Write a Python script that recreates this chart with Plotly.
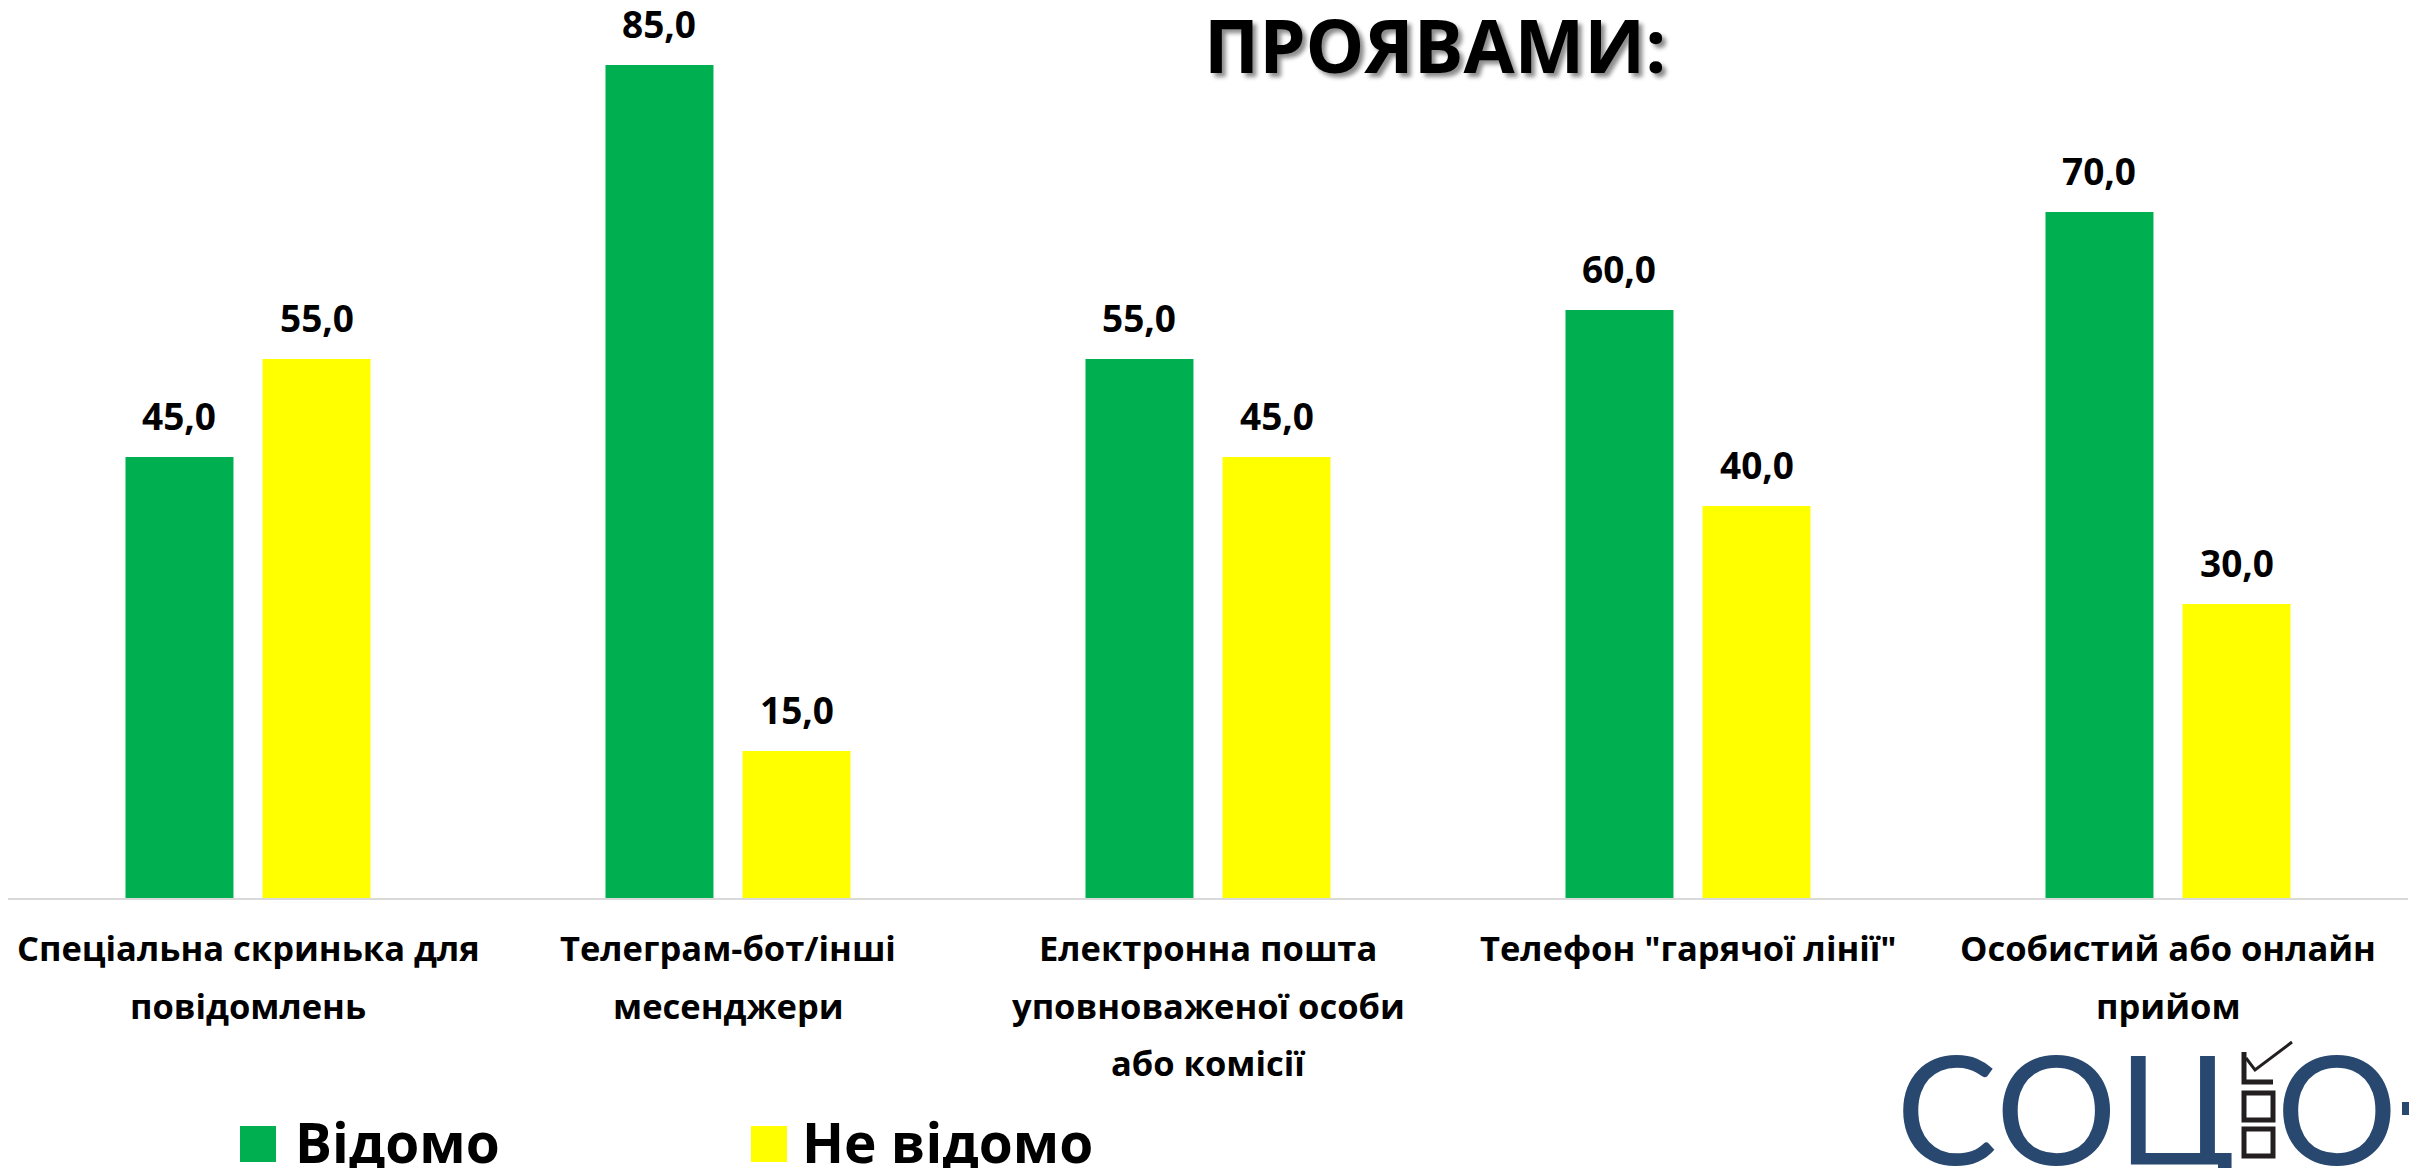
import plotly.graph_objects as go

# data
categories = ["Спеціальна скринька для<br>повідомлень",
              "Телеграм-бот/інші<br>месенджери",
              "Електронна пошта<br>уповноваженої особи<br>або комісії",
              "Телефон \"гарячої лінії\"",
              "Особистий або онлайн<br>прийом"]
known = [45.0, 85.0, 55.0, 60.0, 70.0]
unknown = [55.0, 15.0, 45.0, 40.0, 30.0]
series_names = ["Відомо", "Не відомо"]
title_text = "ПРОЯВАМИ:"

GREEN = "#00B050"
YELLOW = "#FFFF00"
LOGO = "#284870"
FONT = "Open Sans, Noto Sans, sans-serif"

# page has an 8px body margin, so the figure is drawn 8px smaller and shifted
OFF = 8
W, H = 2417 - OFF, 1168 - OFF
L, R, T, B = 0, 9, 0, 270
PW, PH = W - L - R, H - T - B
BARGAP, GROUPGAP = 0.429, 0.212


def px(x):
    return (x - OFF - L) / PW


def py(y):
    return (H - B - (y - OFF)) / PH


fig = go.Figure()
for name, vals, col in [(series_names[0], known, GREEN), (series_names[1], unknown, YELLOW)]:
    fig.add_trace(go.Bar(x=categories, y=vals, name=name, marker_color=col,
                         marker_line_width=0, showlegend=False))

annotations = []
# value labels above the bars
slot = PW / len(categories) * (1 - BARGAP) / 2
for j, vals in enumerate([known, unknown]):
    for cat, v in zip(categories, vals):
        annotations.append(dict(x=cat, y=v, xref="x", yref="y", text=f"{v:.1f}".replace(".", ","),
                                showarrow=False, xanchor="center", yanchor="bottom",
                                xshift=(j - 0.5) * slot, yshift=14,
                                font=dict(family=FONT, size=37, color="black", weight="bold")))

# category labels, one line per annotation so the line spacing can follow the picture
for cat in categories:
    for i, line in enumerate(cat.split("<br>")):
        annotations.append(dict(x=cat, xref="x", y=py(948 + 57 * i), yref="paper",
                                text=line, showarrow=False, xanchor="center", yanchor="middle",
                                font=dict(family=FONT, size=34.5, color="black", weight="bold")))

# title with soft shadow
annotations.append(dict(x=px(1435), y=py(44), xref="paper", yref="paper", text=title_text,
                        showarrow=False, xanchor="center", yanchor="middle",
                        font=dict(family=FONT, size=74, color="black", weight="bold",
                                  shadow="4px 4px 4px rgba(0,0,0,0.45)")))

# hand drawn legend with large swatches
shapes = []
for name, col, sx, tx in [(series_names[0], GREEN, 240, 293), (series_names[1], YELLOW, 751, 800)]:
    shapes.append(dict(type="rect", xref="paper", yref="paper", x0=px(sx), x1=px(sx + 36),
                       y0=py(1162), y1=py(1126), fillcolor=col, line_width=0))
    annotations.append(dict(x=px(tx), y=py(1141), xref="paper", yref="paper", text=name,
                            showarrow=False, xanchor="left", yanchor="middle",
                            font=dict(family=FONT, size=55, color="black", weight="bold")))

# logo "СОЦІО-" (cut off at the page edge)
logo_font = dict(family="Lato, DejaVu Sans, sans-serif", size=152, color=LOGO)
annotations.append(dict(x=px(2238), y=py(1106), xref="paper", yref="paper", text="СОЦ",
                        showarrow=False, xanchor="right", yanchor="middle", font=logo_font))
annotations.append(dict(x=px(2274), y=py(1106), xref="paper", yref="paper", text="О",
                        showarrow=False, xanchor="left", yanchor="middle", font=logo_font))
shapes.append(dict(type="rect", xref="paper", yref="paper", x0=px(2402), x1=px(2430),
                   y0=py(1115), y1=py(1102), fillcolor=LOGO, line_width=0))
for y0, y1 in [(1093, 1120), (1129, 1156)]:
    shapes.append(dict(type="rect", xref="paper", yref="paper", x0=px(2244), x1=px(2273),
                       y0=py(y1), y1=py(y0), line=dict(color="#231F20", width=5),
                       fillcolor="white"))
shapes.append(dict(type="path", xref="paper", yref="paper",
                   path=f"M {px(2244)},{py(1052)} L {px(2244)},{py(1082)} L {px(2273)},{py(1082)}",
                   line=dict(color="#231F20", width=5)))
shapes.append(dict(type="path", xref="paper", yref="paper",
                   path=f"M {px(2246)},{py(1058)} L {px(2255)},{py(1070)} L {px(2292)},{py(1042)}",
                   line=dict(color="#231F20", width=3)))

fig.update_layout(
    width=W, height=H, margin=dict(l=L, r=R, t=T, b=B, pad=0),
    paper_bgcolor="white", plot_bgcolor="white",
    barmode="group", bargap=BARGAP, bargroupgap=GROUPGAP,
    xaxis=dict(showticklabels=False, showline=True, linecolor="#D9D9D9", linewidth=2,
               ticks="", showgrid=False, zeroline=False, fixedrange=True),
    yaxis=dict(range=[0, PH / 9.8], visible=False, showgrid=False, zeroline=False,
               fixedrange=True),
    annotations=annotations, shapes=shapes,
)

fig.write_html("out.html")
